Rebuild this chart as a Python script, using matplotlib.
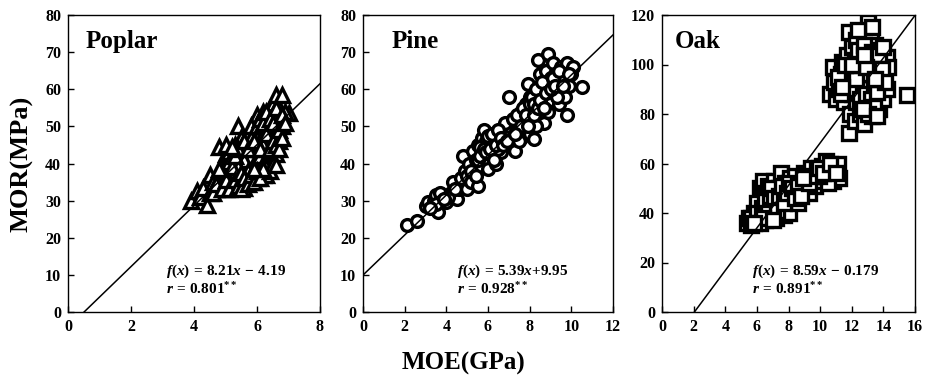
import matplotlib
matplotlib.use("Agg")
import matplotlib.pyplot as plt

plt.rcParams['font.family'] = ['Liberation Serif', 'DejaVu Serif']
plt.rcParams['font.weight'] = 'bold'
plt.rcParams['mathtext.fontset'] = 'custom'
plt.rcParams['mathtext.rm'] = 'Liberation Serif:bold'
plt.rcParams['mathtext.bf'] = 'Liberation Serif:bold'
plt.rcParams['mathtext.it'] = 'Liberation Serif:italic:bold'

# ---------------- data ----------------
poplar_x = [3.9, 4.1, 4.2, 4.4, 4.3, 4.5, 4.5, 4.6, 4.7, 4.8, 4.8, 4.9, 5.0, 5.0, 5.0, 5.1, 5.1, 5.2, 5.2, 5.2,
            5.3, 5.3, 5.3, 5.4, 5.4, 5.4, 5.5, 5.5, 5.5, 5.6, 5.6, 5.6, 5.7, 5.7, 5.7, 5.8, 5.8, 5.8, 5.9, 5.9,
            5.9, 6.0, 6.0, 6.0, 6.1, 6.1, 6.1, 6.2, 6.2, 6.2, 6.3, 6.3, 6.3, 6.4, 6.4, 6.4, 6.5, 6.5, 6.5, 6.6,
            6.6, 6.6, 6.7, 6.7, 6.8, 6.8, 7.0, 6.9, 5.5, 5.8, 6.0, 6.2, 5.3, 5.6, 4.9, 5.1, 6.5, 6.3, 5.9, 6.1,
            5.7, 5.4, 6.4, 6.6, 6.2, 6.0, 5.8, 6.7, 5.2, 5.0,
            4.6, 4.7, 4.9, 5.0, 5.1, 5.1, 5.2, 5.3, 5.3, 5.4, 5.4, 5.5, 5.5, 5.6, 5.6, 5.7, 5.7, 5.8, 5.8, 5.9,
            5.9, 6.0, 6.0, 6.1, 6.1, 6.1, 6.2, 6.2, 6.3, 6.3, 6.3, 6.4, 6.4, 6.4, 6.5, 6.5, 6.5, 6.6, 6.6, 6.7,
            6.7, 6.8, 6.8, 6.9, 4.8, 5.0, 5.2, 6.2, 5.9, 6.6]
poplar_y = [30, 32.5, 31, 28.8, 33.5, 37, 32, 35, 33, 44.5, 36, 38, 33, 40, 42.5, 35, 43, 37, 33.5, 41,
            34, 39, 45, 50, 36, 42, 35, 40, 47, 33.5, 38, 44, 36, 41, 48, 35, 39, 45, 37, 43,
            50, 36, 40, 53, 38, 46, 49, 37, 42, 54, 37, 44, 51, 40, 47, 55, 43, 49, 56, 42.5,
            52, 58.5, 46, 55, 50, 58.5, 53.5, 54, 43, 42, 47, 48, 37, 41, 35, 38, 53, 40, 40, 42,
            38, 39, 50, 48, 45, 44, 47, 52, 36, 37,
            32, 34.5, 33, 35.5, 33, 40.5, 39, 35.5, 42, 34, 44, 37.5, 33, 36, 46, 34.5, 44, 37, 50, 35,
            46, 38, 50, 36, 44, 52, 40, 51, 39, 48, 54, 38, 44, 52, 40, 46, 51, 45, 55, 49,
            44, 53, 47, 51, 38.5, 45, 44.5, 38.5, 38.5, 39.5]

pine_x = [2.1, 2.6, 3.0, 3.1, 3.3, 3.4, 3.5, 3.6, 3.7, 3.8, 4.0, 4.2, 4.3, 4.5, 4.6, 4.7, 4.8, 4.9, 5.0, 5.0,
          5.1, 5.2, 5.3, 5.3, 5.4, 5.5, 5.5, 5.6, 5.7, 5.7, 5.8, 5.9, 6.0, 6.0, 6.1, 6.2, 6.3, 6.3, 6.4, 6.5,
          6.6, 6.7, 6.8, 6.9, 7.0, 7.0, 7.1, 7.2, 7.3, 7.4, 7.5, 7.6, 7.6, 7.7, 7.8, 7.8, 7.9, 7.9, 8.0, 8.0,
          8.1, 8.1, 8.2, 8.2, 8.3, 8.3, 8.4, 8.4, 8.5, 8.5, 8.6, 8.6, 8.7, 8.7, 8.8, 8.8, 8.9, 8.9, 9.0, 9.0,
          9.1, 9.2, 9.2, 9.3, 9.4, 9.5, 9.5, 9.6, 9.7, 9.8, 9.8, 9.9, 10.0, 10.1, 10.5, 6.8, 7.2, 7.9, 8.3, 5.9,
          6.5, 4.1, 3.5, 7.4, 8.9, 9.3, 8.0, 7.7, 6.2, 5.6,
          5.2, 5.4, 5.5, 5.6, 5.8, 5.9, 6.0, 6.1, 6.2, 6.3, 6.4, 6.5, 6.6, 6.7, 6.9, 7.5, 7.6, 7.7, 7.8, 7.9,
          8.0, 8.1, 8.2, 8.2, 8.3, 8.4, 8.5, 8.6, 8.7, 8.8, 9.0, 9.1, 9.2, 9.4, 9.6, 9.9, 3.9, 4.4, 3.2, 7.3]
pine_y = [23.5, 24.5, 28.5, 29.5, 28, 30, 31.5, 27, 32, 30, 29.5, 32, 35, 30.5, 33, 36, 42, 38, 33, 36.5,
          40, 35, 43.5, 38, 41, 34, 45, 39, 47, 43, 49, 41, 45, 38.5, 47, 42, 44, 48, 40, 46,
          43, 49, 46, 48, 50, 58, 45, 47, 43.5, 49, 51, 47, 54, 52, 56, 49, 61.5, 53, 58, 48,
          55, 51, 59, 46.5, 53, 57, 68, 60, 64, 55, 52, 58, 61, 51, 65, 56, 69.5, 60, 63, 57,
          67, 59, 64, 62, 56, 66, 60, 63, 58, 53, 67, 61, 64, 66, 60.5, 51, 52, 56, 50, 46,
          44, 31, 29, 53, 54, 58, 54, 50, 46, 44.5,
          38, 36.5, 41, 42, 44, 43, 47.5, 44, 48, 41, 45, 49, 47, 45, 46, 46, 50, 55, 53, 50,
          56, 58, 53, 56, 60, 55, 57, 62, 55, 59, 60, 63, 61, 65, 61, 64, 30.5, 33, 28, 48]

oak_x = [5.4, 5.5, 5.6, 5.8, 6.0, 6.1, 6.2, 6.2, 6.3, 6.4, 6.4, 6.5, 6.6, 6.6, 6.7, 6.8, 6.9, 7.0, 7.0, 7.1,
         7.2, 7.3, 7.4, 7.5, 7.5, 7.6, 7.7, 7.8, 7.9, 8.0, 8.0, 8.1, 8.2, 8.3, 8.5, 8.6, 8.7, 8.9, 9.0, 9.2,
         9.3, 9.4, 9.5, 9.7, 9.8, 10.0, 10.1, 10.3, 10.4, 10.6, 10.8, 11.1, 11.2, 10.5, 9.9, 7.8, 6.9, 6.0, 8.4, 7.2,
         5.6, 6.0, 6.2, 6.3, 6.5, 6.7, 6.8, 6.9, 7.1, 7.3, 7.4, 7.6, 7.7, 7.9, 8.0, 8.2, 8.4, 8.6, 8.8, 9.1,
         9.3, 9.6, 9.9, 10.2, 10.6, 11.0, 6.4, 7.0, 5.8, 8.9,
         10.6, 10.8, 10.9, 11.0, 11.2, 11.3, 11.4, 11.5, 11.6, 11.7, 11.8, 11.8, 11.9, 11.9, 12.0, 12.0, 12.1, 12.2, 12.2, 12.3,
         12.3, 12.4, 12.5, 12.5, 12.6, 12.7, 12.8, 12.8, 12.9, 13.0, 13.0, 13.1, 13.2, 13.2, 13.3, 13.3, 13.4, 13.5, 13.5, 13.6,
         13.7, 13.8, 13.8, 13.9, 14.0, 14.0, 14.2, 14.3, 14.2, 15.5, 12.6, 12.0, 11.7, 13.1, 12.4, 13.6, 11.5, 11.1,
         11.9, 12.1, 12.2, 12.4, 12.5, 12.6, 12.7, 12.8, 12.9, 13.0, 13.1, 13.2, 13.3, 13.4, 13.5, 13.6, 13.7, 13.8, 13.9, 14.1,
         12.3, 12.9, 13.4, 13.0, 12.7, 13.6, 14.0, 13.3, 12.4, 11.3, 11.6, 11.4, 12.0, 12.8, 13.5]
oak_y = [36, 38, 35, 40, 37, 43, 50, 39, 46, 53, 41, 37, 48, 44, 51, 39, 46, 42, 49, 53,
         38, 45, 50, 42, 56, 47, 39, 52, 44, 49, 40, 54, 46, 51, 48, 44, 53, 50, 56, 52,
         48, 58, 54, 51, 57, 53, 59, 55, 61, 57, 53, 60, 54, 52, 55, 47, 41, 44, 55, 44,
         38, 40, 36, 42, 45, 40, 47, 50, 46, 41, 47, 51, 44, 48, 52, 50, 46, 51, 47, 54,
         52, 55, 58, 56, 60, 56, 38, 37, 36, 54,
         88, 99, 93, 86, 90, 96, 101, 85, 93, 104, 113, 72.5, 80, 98, 88, 107, 94, 77, 102, 85,
         110, 97, 91, 80, 104, 88, 100, 76, 95, 117, 84, 106, 92, 112, 98, 79, 103, 88, 108, 95,
         82, 100, 106, 90, 96, 86, 103, 99, 90, 87.5, 95, 92, 89, 90, 99, 101, 97, 95,
         90, 98, 90, 106, 86, 100, 93, 108, 88, 102, 96, 86, 105, 92, 99, 89, 104, 94, 98, 93,
         94, 99, 83, 80, 82, 79, 107, 115, 114, 88, 100, 91, 100, 104, 94]

species = ["Poplar", "Pine", "Oak"]
slopes = [8.21, 5.39, 8.59]
intercepts = [-4.19, 9.95, -17.6]   # drawn fit lines
line_x = [[0.51, 8.0], [0.0, 12.0], [2.05, 16.0]]
eq_texts = [r'$\mathit{f}\mathrm{(}\mathit{x}\mathrm{)\,=\,8.21}\mathit{x}\mathrm{\,-\,4.19}$',
            r'$\mathit{f}\mathrm{(}\mathit{x}\mathrm{)\,=\,5.39}\mathit{x}\mathrm{+9.95}$',
            r'$\mathit{f}\mathrm{(}\mathit{x}\mathrm{)\,=\,8.59}\mathit{x}\mathrm{\,-\,0.179}$']
r_texts = [r'$\mathit{r}\mathrm{\,=\,0.801^{**}}$',
           r'$\mathit{r}\mathrm{\,=\,0.928^{**}}$',
           r'$\mathit{r}\mathrm{\,=\,0.891^{**}}$']
xlims = [(0, 8), (0, 12), (0, 16)]
ylims = [(0, 80), (0, 80), (0, 120)]
xticks = [list(range(0, 9, 2)), list(range(0, 13, 2)), list(range(0, 17, 2))]
yticks = [list(range(0, 81, 10)), list(range(0, 81, 10)), list(range(0, 121, 20))]
markers = ['^', 'o', 's']
msizes = [9.5, 8.5, 9.5]
xs = [poplar_x, pine_x, oak_x]
ys = [poplar_y, pine_y, oak_y]

# ---------------- layout ----------------
W, H = 927, 389
fig = plt.figure(figsize=(W / 100, H / 100), dpi=100)
boxes = [(68, 320), (363, 613), (662, 915)]
top, bottom = 15, 312
name_pos = [0.07, 0.115, 0.05]
eq_pos = [0.39, 0.376, 0.356]

for i in range(3):
    l, r = boxes[i]
    ax = fig.add_axes([l / W, (H - bottom) / H, (r - l) / W, (bottom - top) / H])
    ax.plot(xs[i], ys[i], linestyle='none', marker=markers[i], markersize=msizes[i],
            markerfacecolor='white', markeredgecolor='black', markeredgewidth=2.4, zorder=2)
    lx = line_x[i]
    ly = [slopes[i] * v + intercepts[i] for v in lx]
    ax.plot(lx, ly, color='black', lw=1.1, zorder=3)
    ax.set_xlim(*xlims[i])
    ax.set_ylim(*ylims[i])
    ax.set_xticks(xticks[i])
    ax.set_yticks(yticks[i])
    ax.tick_params(direction='in', length=4, width=1, labelsize=11.5, pad=5)
    for lab in ax.get_xticklabels() + ax.get_yticklabels():
        lab.set_fontweight('bold')
    for s in ax.spines.values():
        s.set_linewidth(1.0)
    ax.text(name_pos[i], 0.91, species[i], transform=ax.transAxes, fontsize=18,
            fontweight='bold', va='center', ha='left')
    ax.text(eq_pos[i], 0.138, eq_texts[i], transform=ax.transAxes, fontsize=11,
            va='center', ha='left')
    ax.text(eq_pos[i], 0.077, r_texts[i], transform=ax.transAxes, fontsize=11,
            va='center', ha='left')
    if i == 0:
        ax.set_ylabel('MOR(MPa)', fontsize=19, fontweight='bold', labelpad=8)

fig.text(463 / W, 1 - 363 / H, 'MOE(GPa)', fontsize=18, fontweight='bold', ha='center', va='center')
fig.savefig('out.png', dpi=100)
